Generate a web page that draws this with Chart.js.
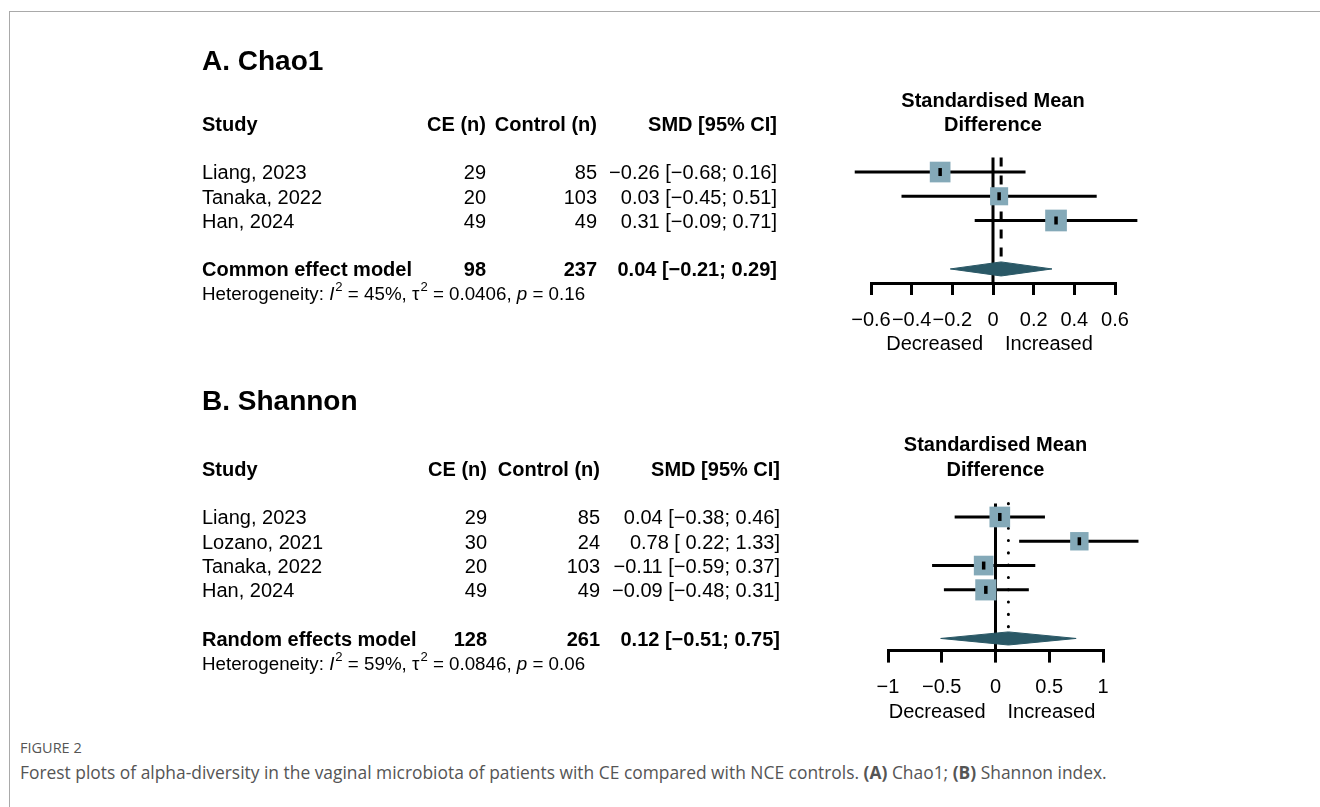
<!DOCTYPE html>
<html>
<head>
<meta charset="utf-8">
<script src="https://cdn.jsdelivr.net/npm/chart.js@4.4.1/dist/chart.umd.min.js"></script>
<style>
  html, body { margin: 0; padding: 0; background: #fff; }
  #page { position: relative; width: 1320px; height: 807px; overflow: hidden; }
  #frame { position: absolute; left: 9px; top: 11px; width: 1320px; height: 800px;
           border-top: 1px solid #a9a9a9; border-left: 1px solid #a9a9a9; }
  canvas.plot { position: absolute; left: 190px; }
  #chartA { top: 30px; }
  #chartB { top: 375px; }
  #figlabel { position: absolute; left: 20px; top: 738px; font: 14.5px "Open Sans", sans-serif; color: #555; }
  #caption { position: absolute; left: 20px; top: 760px; font: 17.4px "Open Sans", sans-serif; color: #555; white-space: nowrap; }
  #caption b { font-weight: 700; }
</style>
</head>
<body>
<div id="page">
  <div id="frame"></div>
  <canvas id="chartA" class="plot" width="970" height="340"></canvas>
  <canvas id="chartB" class="plot" width="970" height="360"></canvas>
  <div id="figlabel">FIGURE 2</div>
  <div id="caption">Forest plots of alpha-diversity in the vaginal microbiota of patients with CE compared with NCE controls. <b>(A)</b> Chao1; <b>(B)</b> Shannon index.</div>
</div>

<script>
// ---- A. Chao1 ----
const studiesA = ['Liang, 2023', 'Tanaka, 2022', 'Han, 2024'];
const ceA = [29, 20, 49];
const ctrlA = [85, 103, 49];
const smdA = [-0.26, 0.03, 0.31];
const lowerA = [-0.68, -0.45, -0.09];
const upperA = [0.16, 0.51, 0.71];
const weightA = [34.9, 26.7, 38.4];
const summaryA = ['Common effect model', 98, 237];
const pooledA = [0.04, -0.21, 0.29];
const hetA = ['45%', '0.0406', '0.16'];
const ticksA = [-0.6, -0.4, -0.2, 0, 0.2, 0.4, 0.6];

// ---- B. Shannon ----
const studiesB = ['Liang, 2023', 'Lozano, 2021', 'Tanaka, 2022', 'Han, 2024'];
const ceB = [29, 30, 20, 49];
const ctrlB = [85, 24, 103, 49];
const smdB = [0.04, 0.78, -0.11, -0.09];
const lowerB = [-0.38, 0.22, -0.59, -0.48];
const upperB = [0.46, 1.33, 0.37, 0.31];
const weightB = [26.7, 21.2, 24.2, 27.9];
const summaryB = ['Random effects model', 128, 261];
const pooledB = [0.12, -0.51, 0.75];
const hetB = ['59%', '0.0846', '0.06'];
const ticksB = [-1, -0.5, 0, 0.5, 1];

const FONT = '"Liberation Sans", Arial, sans-serif';
const BOX_COLOR = '#84a9b8';
const DIAMOND_COLOR = '#2a5866';
const DY = 1.8; // canvas 'middle' baseline sits a bit high

function fmt(v) {
  const s = Math.abs(v).toFixed(2);
  return v < 0 ? '\u2212' + s : s;
}

function tickFmt(v) {
  if (v === 0) return '0';
  return (v < 0 ? '\u2212' : '') + String(Math.abs(v));
}

function ciText(est, lo, hi, padLower) {
  const l = fmt(lo);
  return fmt(est) + ' [' + (padLower && lo >= 0 ? ' ' : '') + l + '; ' + fmt(hi) + ']';
}

function textPlugin(p) {
  return {
    id: 'forestText',
    afterDraw(chart) {
      const ctx = chart.ctx;
      const y = r => chart.scales.y.getPixelForValue(r) + DY;
      const x0 = chart.scales.x.getPixelForValue(0);
      const padLower = p.lower.some(v => v < 0);
      ctx.save();
      ctx.fillStyle = '#000';
      ctx.textBaseline = 'middle';

      // panel title
      ctx.textAlign = 'left';
      ctx.font = 'bold 28px ' + FONT;
      ctx.fillText(p.title, p.cols[0], y(p.titleRow));

      // column headers
      ctx.font = 'bold 20px ' + FONT;
      ctx.fillText('Study', p.cols[0], y(-1));
      ctx.textAlign = 'right';
      ctx.fillText('CE (n)', p.cols[1], y(-1));
      ctx.fillText('Control (n)', p.cols[2], y(-1));
      ctx.fillText('SMD [95% CI]', p.cols[3], y(-1));

      // forest header
      ctx.textAlign = 'center';
      ctx.fillText('Standardised Mean', x0, y(-2));
      ctx.fillText('Difference', x0, y(-1));

      // study rows
      ctx.font = '20px ' + FONT;
      p.studies.forEach((s, i) => {
        const r = y(i + 1);
        ctx.textAlign = 'left';
        ctx.fillText(s, p.cols[0], r);
        ctx.textAlign = 'right';
        ctx.fillText(String(p.ce[i]), p.cols[1], r);
        ctx.fillText(String(p.ctrl[i]), p.cols[2], r);
        ctx.fillText(ciText(p.smd[i], p.lower[i], p.upper[i], padLower), p.cols[3], r);
      });

      // summary row
      const sr = y(p.sumRow);
      ctx.font = 'bold 20px ' + FONT;
      ctx.textAlign = 'left';
      ctx.fillText(p.summary[0], p.cols[0], sr);
      ctx.textAlign = 'right';
      ctx.fillText(String(p.summary[1]), p.cols[1], sr);
      ctx.fillText(String(p.summary[2]), p.cols[2], sr);
      ctx.fillText(ciText(p.pooled[0], p.pooled[1], p.pooled[2], false), p.cols[3], sr);

      // heterogeneity line with superscripts
      const hr = y(p.sumRow + 1);
      const fs = 18.75;
      const parts = [
        ['Heterogeneity: ', ''],
        ['I', 'italic '],
        ['2', 'sup'],
        [' = ' + p.het[0] + ', ', ''],
        ['\u03c4', ''],
        ['2', 'sup'],
        [' = ' + p.het[1] + ', ', ''],
        ['p', 'italic '],
        [' = ' + p.het[2], '']
      ];
      ctx.textAlign = 'left';
      let hx = p.cols[0];
      parts.forEach(([t, st]) => {
        if (st === 'sup') {
          ctx.font = (fs * 0.7) + 'px ' + FONT;
          ctx.fillText(t, hx + 1, hr - fs * 0.38);
          hx += ctx.measureText(t).width + 1;
        } else {
          ctx.font = st + fs + 'px ' + FONT;
          ctx.fillText(t, hx, hr);
          hx += ctx.measureText(t).width;
        }
      });

      // axis direction labels
      ctx.font = '20px ' + FONT;
      const lr = chart.scales.y.bottom + 60 + DY;
      ctx.textAlign = 'right';
      ctx.fillText('Decreased', x0 - 10, lr);
      ctx.textAlign = 'left';
      ctx.fillText('Increased', x0 + 12, lr);
      ctx.restore();
    }
  };
}

function forestChart(canvasId, p) {
  const n = p.smd.length;
  const sumRow = p.sumRow;
  const half = p.diamondHalf;
  const datasets = [];
  const base = { type: 'line', pointRadius: 0, borderColor: '#000', borderWidth: 3, clip: false, fill: false, tension: 0 };

  // line of no effect
  datasets.push(Object.assign({}, base, {
    data: [{ x: 0, y: p.yMin }, { x: 0, y: p.yMax }], order: 20, borderCapStyle: 'butt'
  }));
  // pooled estimate reference line
  datasets.push(Object.assign({}, base, {
    data: [{ x: p.pooled[0], y: p.yMin }, { x: p.pooled[0], y: sumRow - half }],
    borderDash: p.refDash, borderCapStyle: p.refCap, order: 19
  }));
  // confidence intervals
  for (let i = 0; i < n; i++) {
    datasets.push(Object.assign({}, base, {
      data: [{ x: p.lower[i], y: i + 1 }, { x: p.upper[i], y: i + 1 }], order: 10
    }));
  }
  // weighted boxes
  datasets.push({
    type: 'line', showLine: false, clip: false, order: 5,
    data: p.smd.map((v, i) => ({ x: v, y: i + 1 })),
    pointStyle: 'rect',
    pointRadius: p.weight.map(w => p.boxScale * Math.sqrt(w) / Math.SQRT2),
    pointBackgroundColor: BOX_COLOR, pointBorderWidth: 0, pointBorderColor: BOX_COLOR
  });
  // point estimate marks
  datasets.push({
    type: 'line', showLine: false, clip: false, order: 4,
    data: p.smd.map((v, i) => ({ x: v, y: i + 1 })),
    pointStyle: 'line', rotation: 90, pointRadius: 4,
    pointBorderColor: '#000', pointBorderWidth: 3.5
  });
  // pooled diamond
  datasets.push({
    type: 'line', clip: false, order: 3, pointRadius: 0, tension: 0,
    data: [
      { x: p.pooled[1], y: sumRow }, { x: p.pooled[0], y: sumRow - half },
      { x: p.pooled[2], y: sumRow }, { x: p.pooled[0], y: sumRow + half },
      { x: p.pooled[1], y: sumRow }
    ],
    borderColor: DIAMOND_COLOR, borderWidth: 1, backgroundColor: DIAMOND_COLOR, fill: 'shape'
  });

  return new Chart(document.getElementById(canvasId), {
    type: 'line',
    data: { datasets },
    options: {
      responsive: false,
      animation: false,
      events: [],
      layout: { padding: p.padding },
      plugins: { legend: { display: false }, tooltip: { enabled: false }, title: { display: false } },
      scales: {
        x: {
          type: 'linear', position: 'bottom',
          min: p.ticks[0], max: p.ticks[p.ticks.length - 1],
          afterBuildTicks: s => { s.ticks = p.ticks.map(v => ({ value: v })); },
          afterFit: s => { s.height = 60; },
          border: { display: true, color: '#000', width: 3 },
          grid: { drawOnChartArea: false, drawTicks: true, tickLength: 12, lineWidth: 3, color: '#000' },
          ticks: {
            autoSkip: false, maxRotation: 0, padding: 13, color: '#000',
            font: { family: FONT, size: 20 },
            callback: v => tickFmt(v)
          }
        },
        y: { type: 'linear', reverse: true, min: p.yMin, max: p.yMax, display: false }
      }
    },
    plugins: [textPlugin(p)]
  });
}

forestChart('chartA', {
  title: 'A. Chao1', titleRow: -3.62,
  studies: studiesA, ce: ceA, ctrl: ctrlA, smd: smdA, lower: lowerA, upper: upperA,
  weight: weightA, summary: summaryA, pooled: pooledA, het: hetA, ticks: ticksA,
  sumRow: 5, yMin: 0.4, yMax: 5.58, diamondHalf: 0.29, boxScale: 3.5,
  refDash: [9, 9], refCap: 'butt',
  cols: [12, 296, 407, 587],
  padding: { left: 681, right: 45, top: 127.5, bottom: 27 }
});

forestChart('chartB', {
  title: 'B. Shannon', titleRow: -3.81,
  studies: studiesB, ce: ceB, ctrl: ctrlB, smd: smdB, lower: lowerB, upper: upperB,
  weight: weightB, summary: summaryB, pooled: pooledB, het: hetB, ticks: ticksB,
  sumRow: 6, yMin: 0.45, yMax: 6.5, diamondHalf: 0.27, boxScale: 4.0,
  refDash: [0.1, 12.2], refCap: 'round',
  cols: [12, 297, 410, 590],
  padding: { left: 698, right: 57, top: 128.6, bottom: 24.4 }
});
</script>
</body>
</html>
